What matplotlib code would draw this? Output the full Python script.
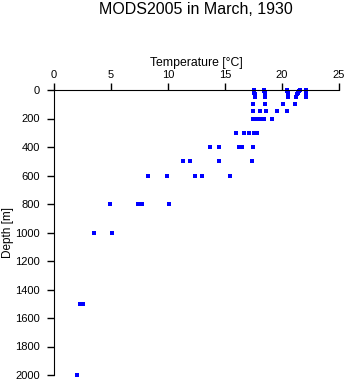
import numpy as np
import matplotlib.pyplot as plt

plt.rcParams['font.family'] = ['Liberation Sans', 'DejaVu Sans']

depth_levels = [0, 10, 20, 30, 50, 100, 150, 200, 300, 400, 500, 600, 800, 1000, 1500, 2000]
temps = [
    [17.5, 18.4, 20.4, 21.6, 22.1],
    [17.5, 18.4, 20.4, 21.5, 22.1],
    [17.5, 18.5, 20.5, 21.4, 22.1],
    [17.6, 18.5, 20.5, 21.3, 22.1],
    [17.6, 18.5, 20.5, 21.2, 22.1],
    [17.45, 18.5, 20.1, 21.1],
    [17.45, 18.1, 18.6, 19.55, 20.45],
    [17.45, 17.8, 18.1, 18.4, 19.1],
    [16.0, 16.7, 17.1, 17.5, 17.85],
    [13.65, 14.5, 16.2, 16.45, 17.45],
    [11.35, 11.95, 14.45, 17.4],
    [8.25, 9.95, 12.4, 13.0, 15.45],
    [4.9, 7.4, 7.75, 10.05],
    [3.55, 5.05],
    [2.25, 2.5],
    [2.0],
]

xs = []
ys = []
for d, tl in zip(depth_levels, temps):
    for t in tl:
        xs.append(t)
        ys.append(d)

fig = plt.figure(figsize=(3.48, 3.84), dpi=100)
ax = fig.add_axes([54/348, 1-375/384, 285/348, 285/384])
ax.plot(xs, ys, 's', color='blue', markersize=2.4, markeredgewidth=0, clip_on=False)

ax.set_xlim(0, 25)
ax.set_ylim(2000, 0)
ax.set_xticks(np.arange(0, 26, 5))
ax.set_yticks(np.arange(0, 2001, 200))
ax.xaxis.tick_top()
ax.xaxis.set_label_position('top')
ax.spines['right'].set_visible(False)
ax.spines['bottom'].set_visible(False)
ax.tick_params(direction='out', length=5, width=1, labelsize=8, pad=2)
ax.tick_params(axis='y', pad=5)
ax.set_xlabel('Temperature [°C]', fontsize=8.8, labelpad=3)
fig.text(8/348, 1-232/384, 'Depth [m]', rotation=90, ha='center', va='center', fontsize=8.5)
fig.text(196/348, 1-10/384, 'MODS2005 in March, 1930', ha='center', va='center', fontsize=11.5)

fig.savefig('out.png', dpi=100)
